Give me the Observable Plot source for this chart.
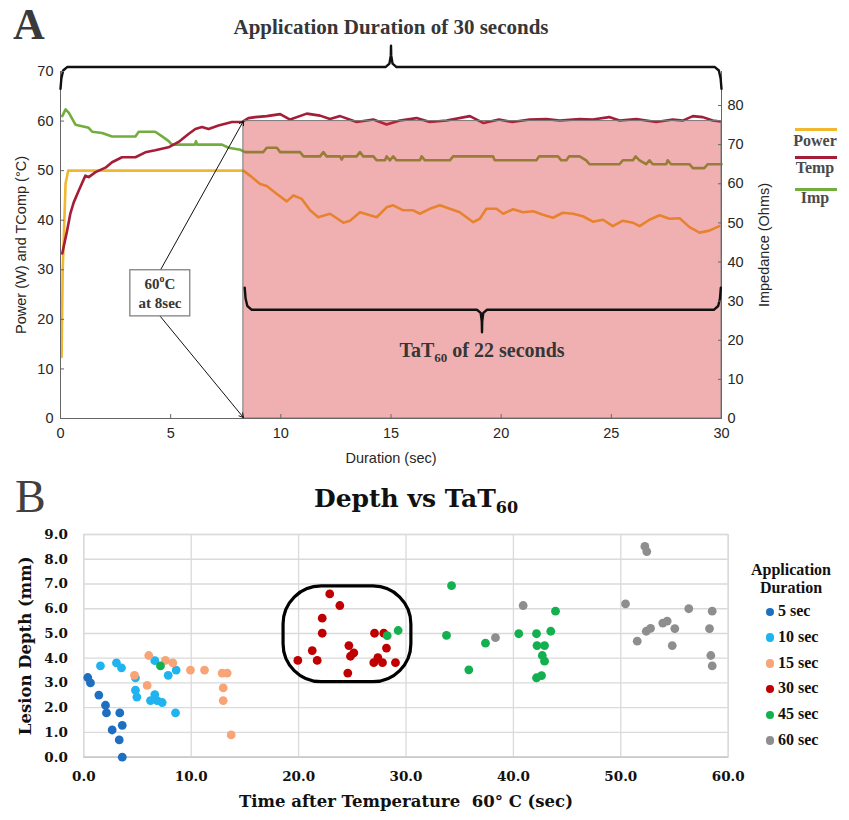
<!DOCTYPE html>
<html><head><meta charset="utf-8">
<script src="https://cdn.jsdelivr.net/npm/d3@7"></script>
<script src="https://cdn.jsdelivr.net/npm/@observablehq/plot@0.6"></script>
<style>
body{margin:0;background:#fff;}
#wrap{position:relative;width:849px;height:820px;overflow:hidden;background:#fff;}
.panel{position:absolute;left:0;}
.lbl{position:absolute;white-space:nowrap;line-height:1;}
.sub{position:relative;}
</style></head><body><div id="wrap"></div>
<script>
// ---------- Panel A data ----------
const powerT = [0.05,0.1,0.23,0.35,1,2,3,4,5,6,7,8,8.3,8.6,9.06,9.36,9.82,10.27,10.57,10.95,11.33,11.7,12.23,12.84,13.14,13.59,14.35,14.8,15.1,15.56,16.01,16.31,16.76,17.22,17.67,18.12,18.73,19.03,19.33,19.79,20.09,20.54,20.99,21.45,21.9,22.35,22.8,23.26,23.71,24.16,24.62,25.07,25.52,25.98,26.28,26.73,27.19,27.64,28.1,28.55,29.0,29.45,29.9];
const powerV = [12.4,30,47.4,50,50,50,50,50,50,50,50,50,50,49,47.3,46.9,45.3,43.8,45,44.3,42,40.6,41.3,39.5,39.9,41.6,40.6,42.6,43,42,42,41.3,42.3,43,42.3,41.6,39.6,40.3,42.3,42.3,41.3,42.2,41.6,41.8,41.1,40.5,41.5,41.3,40.8,39.7,40.1,38.8,39.9,39.5,38.8,40.1,41,40.3,40.4,38.6,37.5,37.9,38.8];
const tempT = [0.08,0.3,0.45,0.6,0.83,1.13,1.28,1.59,2.04,2.34,2.79,3.4,3.85,4.3,4.9,5.36,5.81,6.12,6.42,6.72,7.17,7.78,8.23,8.53,8.84,9.36,9.97,10.42,11.18,11.78,12.23,12.69,13.44,14.2,14.8,15.4,16.16,16.76,17.52,18.58,19.2,19.9,20.5,21.3,22.05,22.66,23.56,24.16,24.9,25.37,26.13,27.04,27.79,28.24,28.7,29.15,29.6,29.95];
const tempV = [33.3,37.9,41.4,43.6,46,49,48.7,49.7,50.6,51.7,52.7,52.7,53.7,54.1,54.7,55.8,57.4,58.4,58.8,58.4,59.1,59.8,59.8,60.6,60.8,61,61.4,60.3,61.5,61.1,60.4,61,59.8,60.3,59.3,60.1,60.6,59.8,60.1,61,59.6,60.3,59.8,60.3,60.4,60.1,60.4,60.3,60.8,60.1,60.4,59.8,60.3,60.1,61,60.8,60.1,59.9];
const impT = [0.08,0.23,0.38,0.68,0.98,1.28,1.44,1.89,2.34,3.4,3.55,4.3,4.61,4.91,5.06,6.1,6.15,6.2,7.33,7.63,8.16,8.38,9.2,9.36,9.82,9.97,10.87,11.03,11.78,11.93,12.08,12.69,12.76,12.84,13.44,13.59,13.74,14.2,14.35,14.73,14.8,14.95,15.1,15.25,16.31,16.39,16.54,17.67,17.82,19.63,19.71,21.6,21.72,22.58,22.73,22.96,23.08,23.56,23.86,24.01,25.37,25.52,25.98,26.1,26.28,26.58,26.73,26.88,27.49,27.56,27.71,28.55,28.7,29.22,29.37,30];
const impV = [77.3,79,78.1,75.1,74.7,74.3,73.3,73,72.1,72.1,73.3,73.3,72.1,70.9,70,70,70.9,70,70,69.2,68.7,68.1,68.1,69.2,69.2,68.1,68.1,67,67,68.1,67,67,66.2,67,67,68.1,67,67,66,66,67,66,67,66,66,67,66,66,67,67,66,66,67,67,66,66,67,67,66,65,65,66,66,67,66,65,66,65,65,66,65,65,64,64,65,65];
const leftTicks = [0,10,20,30,40,50,60,70];
const impTicks = [0,10,20,30,40,50,60,70,80];
const xTicksA = [0,5,10,15,20,25,30];
const leftMax = 70, impMax = 88.7;

// annotations (data units)
const tatWindow = [{start: 8.3, end: 30, low: 0, high: 60}];
const calloutBox = [{x1: 3.17, x2: 5.89, y1: 20.6, y2: 29.9}];
const calloutArrows = [{x1: 4.53, y1: 29.9, x2: 8.3, y2: 60}, {x1: 4.53, y1: 20.6, x2: 8.3, y2: 0.2}];
const braceTopT = [0,0.04,0.12,0.3,14.75,14.93,14.99,15,15.01,15.07,15.25,29.7,29.88,29.96,30];
const braceTopV = [66.5,68.6,70.2,70.9,70.9,71.6,73.2,75.2,73.2,71.6,70.9,70.9,70.2,68.6,66.5];
const braceTatT = [8.36,8.4,8.48,8.68,18.9,19.07,19.12,19.13,19.14,19.19,19.36,29.65,29.85,29.93,29.97];
const braceTatV = [26.4,24.2,22.7,21.93,21.93,21.3,19.6,17.4,19.6,21.3,21.93,21.93,22.7,24.2,26.4];

// ---------- Panel B data ----------
const durations = ["5 sec","10 sec","15 sec","30 sec","45 sec","60 sec"];
const durationColors = ["#1f6fc0","#1fb4ef","#f8a477","#c00000","#13b04f","#8e8e8e"];
const t5 = [0.37,0.62,1.4,2.02,2.11,2.64,3.35,3.58,3.3,3.58];
const d5 = [3.22,3.0,2.51,2.1,1.79,1.1,1.79,1.29,0.7,0.0];
const t10 = [1.55,3.04,3.51,4.81,4.81,4.94,6.61,7.86,8.6,6.21,6.61,6.83,7.3,8.54];
const d10 = [3.69,3.81,3.61,3.21,2.71,2.43,3.9,3.31,3.52,2.29,2.53,2.29,2.21,1.79];
const t15 = [6.05,4.72,5.9,7.6,8.29,9.93,11.24,12.88,13.35,12.98,12.98,13.72];
const d15 = [4.11,3.31,2.9,3.91,3.81,3.52,3.52,3.4,3.4,2.8,2.29,0.9];
const t30 = [22.9,23.84,22.2,22.2,21.27,19.93,21.73,24.68,24.83,25.14,24.58,27.07,27.93,28.18,27.0,27.38,27.81,29.02];
const d30 = [6.6,6.13,5.62,5.01,4.31,3.91,3.91,4.51,4.08,4.22,3.4,5.01,5.01,4.41,3.82,4.02,3.82,3.82];
const t45 = [7.14,28.25,29.27,34.24,33.77,35.85,37.4,40.5,42.15,42.2,42.9,42.69,42.9,42.15,42.62,43.48,43.92];
const d45 = [3.69,4.91,5.12,6.93,4.92,3.53,4.61,4.99,4.99,4.51,4.51,4.11,3.88,3.21,3.3,5.09,5.9];
const t60 = [40.91,38.33,50.44,52.24,52.42,51.53,52.37,52.77,53.91,54.32,55.03,54.79,56.33,58.51,58.26,58.38,58.51];
const d60 = [6.13,4.83,6.2,8.52,8.31,4.69,5.09,5.21,5.42,5.5,5.2,4.51,6.0,5.9,5.2,4.11,3.69];
const yTicksB = [0,1,2,3,4,5,6,7,8,9];
const xTicksB = [0,10,20,30,40,50,60];
const clusterBox = [{x1: 18.6, x2: 30.5, y1: 3.03, y2: 6.9}];

// ---------- build ----------
const zip = (T, V) => T.map((t, i) => ({t, v: V[i]}));
const powerData = zip(powerT, powerV), tempData = zip(tempT, tempV), impData = zip(impT, impV);
const braceTop = zip(braceTopT, braceTopV), braceTat = zip(braceTatT, braceTatV);
const groups = [[t5,d5],[t10,d10],[t15,d15],[t30,d30],[t45,d45],[t60,d60]];
const scatter = groups.flatMap(([T, D], g) => T.map((t, i) => ({t, d: D[i], group: durations[g]})));
const toLeft = v => v * leftMax / impMax;

const C = {power: "#f1b72f", temp: "#a51d36", imp: "#72ae3e"};
const wrap = document.getElementById("wrap");

const chartA = Plot.plot({
  width: 849, height: 470,
  marginLeft: 60, marginRight: 128, marginTop: 71, marginBottom: 52,
  x: {domain: [0, 30]},
  y: {domain: [0, leftMax]},
  style: {fontFamily: "'Liberation Sans', Arial, sans-serif", fontSize: "14.5px", color: "#262626", background: "transparent", overflow: "visible"},
  marks: [
    Plot.line(powerData, {x: "t", y: "v", stroke: C.power, strokeWidth: 2.6}),
    Plot.line(impData, {x: "t", y: d => toLeft(d.v), stroke: C.imp, strokeWidth: 2.6}),
    Plot.line(tempData, {x: "t", y: "v", stroke: C.temp, strokeWidth: 2.6}),
    Plot.rect(tatWindow, {x1: "start", x2: "end", y1: "low", y2: "high", fill: "rgb(214,40,46)", fillOpacity: 0.37, stroke: "#7a7a7a", strokeWidth: 1}),
    Plot.ruleX([0, 30], {y1: 0, y2: leftMax, stroke: "#666"}),
    Plot.ruleY([0], {stroke: "#666"}),
    Plot.arrow(calloutArrows, {x1: "x1", y1: "y1", x2: "x2", y2: "y2", stroke: "#111", strokeWidth: 1, headLength: 7}),
    Plot.rect(calloutBox, {x1: "x1", x2: "x2", y1: "y1", y2: "y2", fill: "white", stroke: "#777", strokeWidth: 1.2}),
    Plot.line(braceTop, {x: "t", y: "v", stroke: "#111", strokeWidth: 2.4, curve: "linear"}),
    Plot.line(braceTat, {x: "t", y: "v", stroke: "#111", strokeWidth: 2.4, curve: "linear"}),
    Plot.axisY({ticks: leftTicks, tickSize: -4, tickPadding: 11, stroke: "#666", label: "Power (W) and TComp (°C)", labelAnchor: "center", labelOffset: 45, labelArrow: "none"}),
    Plot.axisY(impTicks, {anchor: "right", y: toLeft, tickFormat: d => String(d), tickSize: -4, tickPadding: 10, stroke: "#666", label: "Impedance (Ohms)", labelAnchor: "center", labelOffset: 47, labelArrow: "none"}),
    Plot.axisX({ticks: xTicksA, tickSize: -4, tickPadding: 13, stroke: "#666", label: "Duration (sec)", labelAnchor: "center", labelOffset: 44, labelArrow: "none"})
  ]
});
const divA = document.createElement("div"); divA.className = "panel"; divA.style.top = "0px";
divA.appendChild(chartA); wrap.appendChild(divA);

const chartB = Plot.plot({
  width: 849, height: 350,
  marginLeft: 83.3, marginRight: 121.3, marginTop: 64, marginBottom: 63.3,
  x: {domain: [0, 60]},
  y: {domain: [0, 9]},
  color: {domain: durations, range: durationColors},
  style: {fontFamily: "'DejaVu Serif', serif", fontSize: "13.5px", fontWeight: "bold", color: "#111", background: "transparent", overflow: "visible"},
  marks: [
    Plot.gridY(yTicksB, {stroke: "#dadada", strokeOpacity: 1, strokeWidth: 1.3}),
    Plot.gridX(xTicksB, {stroke: "#dadada", strokeOpacity: 1, strokeWidth: 1.3}),
    Plot.frame({stroke: "#dadada", strokeWidth: 1.3}),
    Plot.ruleY([0], {stroke: "#c4c4c4", strokeWidth: 1.3}),
    Plot.axisY({ticks: yTicksB, tickFormat: d => d.toFixed(1), tickSize: 0, tickPadding: 16, label: null}),
    Plot.axisX({ticks: xTicksB, tickFormat: d => d.toFixed(1), tickSize: 0, tickPadding: 14, label: null}),
    Plot.text(["Lesion Depth (mm)"], {text: d => d, frameAnchor: "left", textAnchor: "middle", dx: -58, rotate: -90, fontSize: 16.5, fontWeight: "bold", fill: "#111"}),
    Plot.text(["Time after Temperature\u00a0 60° C (sec)"], {text: d => d, frameAnchor: "bottom", textAnchor: "middle", dy: 50, fontSize: 16.5, fontWeight: "bold", fill: "#111"}),
    Plot.rect(clusterBox, {x1: "x1", x2: "x2", y1: "y1", y2: "y2", rx: 38, ry: 38, fill: "none", stroke: "#000", strokeWidth: 3.2}),
    Plot.dot(scatter, {x: "t", y: "d", fill: "group", r: 4.4, stroke: null})
  ]
});
const divB = document.createElement("div"); divB.className = "panel"; divB.style.top = "470px";
divB.appendChild(chartB); wrap.appendChild(divB);

// ---------- text overlays ----------
const ASC = {"Liberation Serif": 0.8375, "DejaVu Serif": 0.846, "Liberation Sans": 0.8465};
function place(html, x, base, o) {
  const d = document.createElement("div");
  d.className = "lbl";
  d.innerHTML = html;
  d.style.fontFamily = `"${o.font}"`;
  d.style.fontSize = o.size + "px";
  d.style.fontWeight = o.weight || "normal";
  d.style.color = o.color || "#333";
  d.style.top = (base - ASC[o.font] * o.size) + "px";
  d.style.left = x + "px";
  const tx = o.anchor === "middle" ? "-50%" : o.anchor === "end" ? "-100%" : "0";
  d.style.transform = `translateX(${tx})`;
  wrap.appendChild(d);
  return d;
}
function box(x, y, w, h, color, radius) {
  const d = document.createElement("div");
  d.style.cssText = `position:absolute;left:${x}px;top:${y}px;width:${w}px;height:${h}px;background:${color};border-radius:${radius||0}px;`;
  wrap.appendChild(d);
}
const serifB = {font: "Liberation Serif", weight: "bold", color: "#363636"};

// Panel A
place("A", 13, 40, {font: "Liberation Serif", weight: "bold", size: 44, color: "#3a3a3a"});
place("Application Duration of 30 seconds", 391, 35, {...serifB, size: 21, anchor: "middle"});
place('TaT<span class="sub" style="font-size:13px;top:5px">60</span> of 22 seconds', 482, 357, {...serifB, size: 20, anchor: "middle"});
place('60<span class="sub" style="font-size:10px;top:-7px">o</span>C', 160, 290, {...serifB, size: 15, anchor: "middle"});
place("at 8sec", 160, 309, {...serifB, size: 15, anchor: "middle"});
const legA = [["Power", C.power, 128, 146], ["Temp", C.temp, 155.5, 173], ["Imp", C.imp, 187.5, 203]];
legA.forEach(([name, col, ly, tb]) => {
  box(795, ly, 42, 3, col);
  place(name, 815, tb, {...serifB, size: 16, anchor: "middle", color: "#4a4a4a"});
});

// Panel B
place("B", 15, 513, {font: "Liberation Serif", size: 46, color: "#404040"});
place('Depth vs TaT<span class="sub" style="font-size:16px;top:6px">60</span>', 416, 507, {font: "DejaVu Serif", weight: "bold", size: 25, anchor: "middle", color: "#111"});
place("Application", 791, 575, {...serifB, size: 16, anchor: "middle", color: "#111"});
place("Duration", 791, 593, {...serifB, size: 16, anchor: "middle", color: "#111"});
durations.forEach((name, i) => {
  const base = 616.7 + i * 25.7;
  box(765.5, base - 9, 8.5, 8.5, durationColors[i], 5);
  place(name, 778, base, {...serifB, size: 16, color: "#111"});
});
</script></body></html>
